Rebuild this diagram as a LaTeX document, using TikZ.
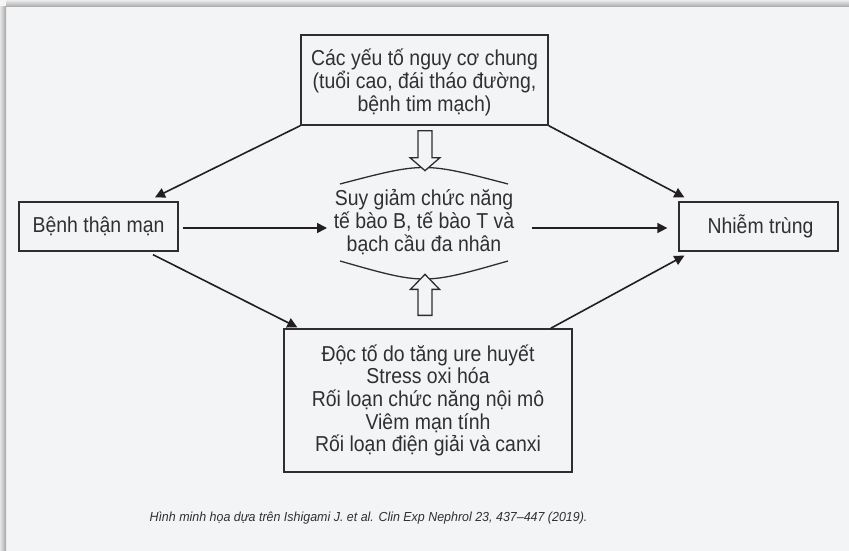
\documentclass[tikz,border=0pt]{standalone}
\usepackage{fontspec}
\setmainfont{Liberation Sans}[FakeStretch=0.9]
\newfontfamily\capfont{Liberation Sans}[FakeStretch=0.95]
\usetikzlibrary{arrows.meta,calc}
\definecolor{bg}{HTML}{F3F4F6}
\definecolor{txt}{HTML}{303030}
\definecolor{edge}{HTML}{2E2E2E}
\definecolor{arr}{HTML}{231F20}
\begin{document}
\begin{tikzpicture}[x=1pt,y=-1pt,
  mainfont/.style={font=\fontsize{21.6}{22.7}\selectfont},
  box/.style={draw=edge, line width=1.3pt, fill=bg, text=txt, align=center, inner sep=0pt, mainfont},
  label text/.style={text=txt, align=center, inner sep=0pt, mainfont},
  conn/.style={draw=arr, line width=1.6pt, -{Triangle[length=10pt,width=10pt]}},
  hollow/.style={draw=edge, line width=1.3pt, fill=bg, line join=miter},
  brace/.style={draw=edge, line width=1.3pt},
]
\useasboundingbox (0,0) rectangle (849,551);
\fill[bg] (0,0) rectangle (849,551);
\fill[gray!8] (0,0) rectangle (6,7);
\shade[top color=gray!15, bottom color=gray!70] (6,0) rectangle (849,7);
\shade[left color=gray!20, right color=gray!70] (0,7) rectangle (6,551);

\node[box, minimum width=247pt, minimum height=90pt] (T) at (424.5,80) {};
\node[label text] (Tt) at (424.5,82.5)
  {Các yếu tố nguy cơ chung\\(tuổi cao, đái tháo đường,\\bệnh tim mạch)};
\node[box, minimum width=159pt, minimum height=49pt] (L) at (98.5,226.5) {Bệnh thận mạn};
\node[box, minimum width=159pt, minimum height=49pt] (R) at (758.5,226.5) {\hspace*{4pt}Nhiễm trùng};
\node[box, minimum width=288pt, minimum height=143pt] (B) at (428,400.5)
  {Độc tố do tăng ure huyết\\Stress oxi hóa\\Rối loạn chức năng nội mô\\Viêm mạn tính\\Rối loạn điện giải và canxi};
\node[label text] (M) at (424,222)
  {Suy giảm chức năng\\tế bào B, tế bào T và\\bạch cầu đa nhân};

% braces around the middle text
\draw[brace] ([shift={(-84,-38)}]M.center) .. controls ([shift={(0,-60)}]M.center) .. ([shift={(84,-38)}]M.center);
\draw[brace] ([shift={(-84,39)}]M.center) .. controls ([shift={(0,63)}]M.center) .. ([shift={(84,39)}]M.center);

% connectors
\coordinate (m1) at ([shift={(-97,0)}]M.center |- L.east);
\coordinate (m2) at ([shift={(97,0)}]M.center |- R.west);
\draw[conn] ([shift={(4,1.5)}]L.east) -- ([shift={(0,1.5)}]m1);
\draw[conn] ([shift={(11,1.5)}]m2) -- ([shift={(-11,1.5)}]R.west);
\draw[conn] (T.south west) -- ([shift={(56.5,-4)}]L.north);
\draw[conn] (T.south east) -- ([shift={(6,-4)}]R.north west);
\draw[conn] ([shift={(54.5,3)}]L.south) -- ([shift={(14,-1)}]B.north west);
\draw[conn] ([shift={(-22,0)}]B.north east) -- ([shift={(6,4)}]R.south west);

% hollow block arrows
\draw[hollow] ([shift={(-6.5,5)}]T.south) -- ([shift={(-6.5,32)}]T.south) -- ([shift={(-14.5,32)}]T.south)
  -- ([shift={(0.5,45)}]T.south) -- ([shift={(15.5,32)}]T.south) -- ([shift={(7.5,32)}]T.south)
  -- ([shift={(7.5,5)}]T.south) -- cycle;
\draw[hollow] ([shift={(-10,-13)}]B.north) -- ([shift={(-10,-39)}]B.north) -- ([shift={(-17.5,-39)}]B.north)
  -- ([shift={(-3,-54)}]B.north) -- ([shift={(11.5,-39)}]B.north) -- ([shift={(4,-39)}]B.north)
  -- ([shift={(4,-13)}]B.north) -- cycle;

\node[text=txt, font=\capfont\fontsize{13.1}{15}\selectfont\itshape, anchor=base, inner sep=0pt] (cap) at (368.5,521.5)
  {Hình minh họa dựa trên Ishigami J. et al. Clin Exp Nephrol 23, 437–447 (2019).};
\end{tikzpicture}
\end{document}
